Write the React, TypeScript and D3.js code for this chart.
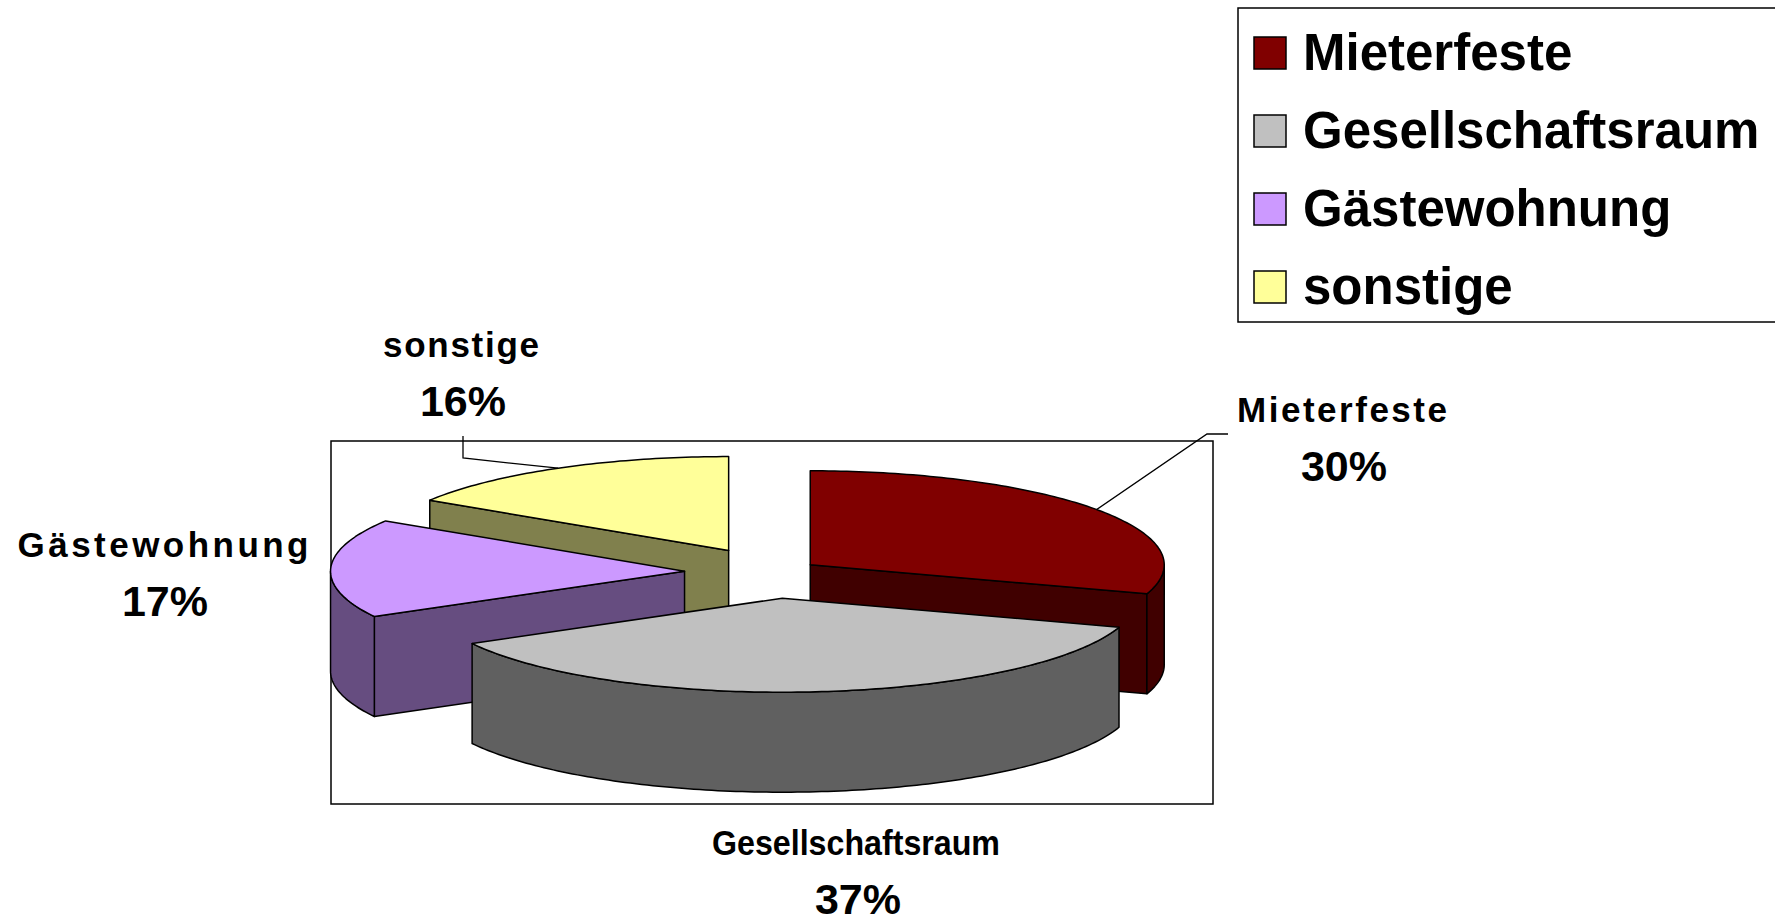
import React from 'react'
import * as d3 from 'd3'

// chart data
const categories = ['Mieterfeste', 'Gesellschaftsraum', 'Gästewohnung', 'sonstige']
const shares = [30, 37, 17, 16]
const colors = ['#800000', '#C0C0C0', '#CC99FF', '#FFFF99']
const explosion = [0.13, 0.28, 0.25, 0.26] // explode of each slice, fraction of radius

const W = 1775
const H = 922
const FONT = '"Liberation Sans", Arial, Helvetica, sans-serif'

// 3D pie projection
const CX = 773
const CY = 572
const RX = 354
const RY = 94
const DEPTH = 100

// the labels were dragged by hand in the original, so they get their own layout
const labelLayout: {
  x: number
  y: number
  width: number
  squeeze: boolean
  leader: [number, number][] | null
}[] = [
  { x: 1342, y: 422, width: 210, squeeze: false, leader: [[1207, 434], [1228, 434]] },
  { x: 856, y: 855, width: 288, squeeze: true, leader: null },
  { x: 163, y: 557, width: 291, squeeze: false, leader: null },
  { x: 461, y: 357, width: 156, squeeze: false, leader: [[463, 458], [463, 436]] },
]

interface Slice {
  name: string
  value: number
  color: string
  explode: number
}

const slices: Slice[] = categories.map((name, i) => ({
  name,
  value: shares[i],
  color: colors[i],
  explode: explosion[i],
}))

const half = (c: string) => {
  const r = d3.rgb(c)
  return d3.rgb(r.r / 2, r.g / 2, r.b / 2).formatHex()
}

const line = d3.line<[number, number]>()

const sample = (a0: number, a1: number) => {
  const n = Math.max(2, Math.ceil(((a1 - a0) * 180) / Math.PI))
  return d3.range(n + 1).map(i => a0 + ((a1 - a0) * i) / n)
}

export default function App() {
  const arcs = d3.pie<Slice>().value(d => d.value).sort(null)(slices)

  const parts = arcs.map((a, i) => {
    const mid = (a.startAngle + a.endAngle) / 2
    const cx = CX + a.data.explode * RX * Math.sin(mid)
    const cy = CY - a.data.explode * RY * Math.cos(mid)
    const rim = (t: number, z = 0): [number, number] => [cx + RX * Math.sin(t), cy - RY * Math.cos(t) + z]
    return { a, i, mid, cx, cy, rim }
  })

  // paint from back to front
  const order = [...parts].sort((p, q) => -Math.cos(p.mid) - -Math.cos(q.mid))

  return (
    <svg
      width={W}
      height={H}
      style={{ position: 'absolute', left: 0, top: 0, background: '#fff' }}
      fontFamily={FONT}
      fontWeight="bold"
    >
      <rect x={331} y={441} width={882} height={363} fill="none" stroke="#000" strokeWidth={1.5} />

      {order.map(({ a, i, cx, cy, rim }) => {
        const side = half(a.data.color)
        const s0 = a.startAngle
        const s1 = a.endAngle
        const faces: string[] = []
        // radial faces
        if (Math.sin(s0) < -1e-6) {
          faces.push(line([[cx, cy], rim(s0), rim(s0, DEPTH), [cx, cy + DEPTH]])! + 'Z')
        }
        if (Math.sin(s1) > 1e-6) {
          faces.push(line([[cx, cy], rim(s1), rim(s1, DEPTH), [cx, cy + DEPTH]])! + 'Z')
        }
        // outer wall, front half only
        const w0 = Math.max(s0, Math.PI / 2)
        const w1 = Math.min(s1, (3 * Math.PI) / 2)
        if (w1 > w0) {
          const ts = sample(w0, w1)
          const pts = [...ts.map(t => rim(t)), ...ts.slice().reverse().map(t => rim(t, DEPTH))]
          faces.push(line(pts)! + 'Z')
        }
        const top = line([[cx, cy], ...sample(s0, s1).map(t => rim(t))])! + 'Z'
        return (
          <g key={i} stroke="#000" strokeWidth={1.5} strokeLinejoin="round">
            {faces.map((d, k) => (
              <path key={k} d={d} fill={side} />
            ))}
            <path d={top} fill={a.data.color} />
          </g>
        )
      })}

      {parts.map(({ a, i, mid, rim }) => {
        const lay = labelLayout[i]
        return (
          <g key={'l' + i}>
            {lay.leader && (
              <path
                d={line([rim(mid), ...lay.leader])!}
                fill="none"
                stroke="#000"
                strokeWidth={1.3}
              />
            )}
            <text
              x={lay.x}
              y={lay.y}
              textAnchor="middle"
              fontSize={35}
              textLength={lay.width}
              lengthAdjust={lay.squeeze ? 'spacingAndGlyphs' : 'spacing'}
            >
              {a.data.name}
            </text>
            <text x={lay.x + 2} y={lay.y + 59} textAnchor="middle" fontSize={43}>
              {`${a.data.value}%`}
            </text>
          </g>
        )
      })}

      <g>
        <rect x={1238} y={8} width={600} height={314} fill="#fff" stroke="#000" strokeWidth={1.5} />
        {slices.map((d, i) => (
          <g key={d.name} transform={`translate(0, ${i * 78})`}>
            <rect x={1254} y={37} width={32} height={32} fill={d.color} stroke="#000" strokeWidth={1.5} />
            <text x={1303} y={70} fontSize={51}>
              {d.name}
            </text>
          </g>
        ))}
      </g>
    </svg>
  )
}
